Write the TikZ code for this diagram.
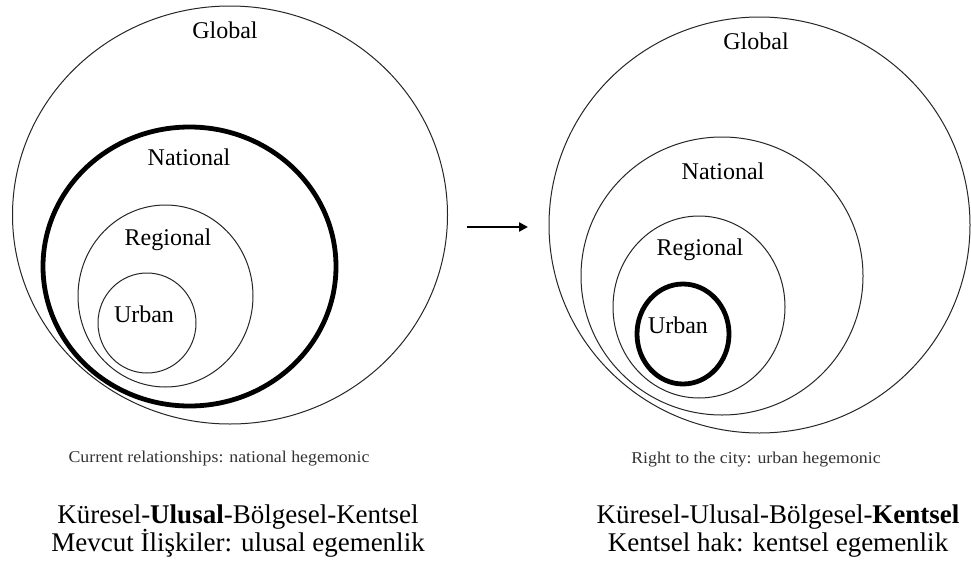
\documentclass[tikz,border=0pt]{standalone}
\usepackage{fontspec}
\setmainfont{Liberation Serif}
\usetikzlibrary{arrows.meta}
\begin{document}
\begin{tikzpicture}[x=1pt,y=-1pt,
  thinring/.style={draw=black!85, line width=1pt},
  thickring/.style={draw=black, line width=4.8pt},
  lbl/.style={font=\fontsize{24}{28}\selectfont, inner sep=0pt, anchor=base},
  capt/.style={font=\fontsize{16.5}{19}\selectfont, text=black!80, inner sep=0pt, anchor=base},
  trline/.style={font=\fontsize{27}{28}\selectfont, inner sep=0pt, anchor=base},
  arrowline/.style={line width=2.8pt, -{Triangle[length=9pt,width=9pt]}}]
\useasboundingbox (0,0) rectangle (971,562);
\fill[white] (0,0) rectangle (971,562);

% ---- left diagram ----
\draw[thinring]  (230,215)   ellipse [x radius=217.5pt, y radius=209pt];
\draw[thickring] (189.5,266.5) ellipse [x radius=146.5pt, y radius=139.5pt];
\draw[thinring]  (165.5,296) ellipse [x radius=87.5pt, y radius=91pt];
\draw[thinring]  (147,323)   ellipse [x radius=49pt, y radius=50pt];

\node[lbl] (lglobal)   at (225,38)  {Global};
\node[lbl] (lnational) at (189,165) {National};
\node[lbl] (lregional) at (168,245) {Regional};
\node[lbl] (lurban)    at (144,322) {Urban};

% ---- right diagram ----
\draw[thinring]  (759.5,225) ellipse [x radius=210.5pt, y radius=208pt];
\draw[thinring]  (722,276)   ellipse [x radius=141pt, y radius=139pt];
\draw[thinring]  (699,307)   ellipse [x radius=86pt, y radius=91pt];
\draw[thickring] (683,334)   ellipse [x radius=46pt, y radius=50pt];

\node[lbl] (rglobal)   at (756,49)  {Global};
\node[lbl] (rnational) at (723,179) {National};
\node[lbl] (rregional) at (700,255) {Regional};
\node[lbl] (rurban)    at (678,333) {Urban};

% ---- arrow ----
\coordinate (arrS) at (467,227);
\coordinate (arrE) at (528,227);
\draw[arrowline] (arrS) -- (arrE);

% ---- captions ----
\node[capt] (lcap) at (219,462) {\scalebox{1.08}[1]{Current relationships: national hegemonic}};
\node[capt] (rcap) at (756,463) {\scalebox{1.08}[1]{Right to the city: urban hegemonic}};

% ---- Turkish text ----
\node[trline] (ltr1) at (238,523) {Küresel-\textbf{Ulusal}-Bölgesel-Kentsel};
\node[trline] (ltr2) at (238,551) {Mevcut İlişkiler: ulusal egemenlik};
\node[trline] (rtr1) at (778,523) {Küresel-Ulusal-Bölgesel-\textbf{Kentsel}};
\node[trline] (rtr2) at (778,551) {Kentsel hak: kentsel egemenlik};
\end{tikzpicture}
\end{document}
